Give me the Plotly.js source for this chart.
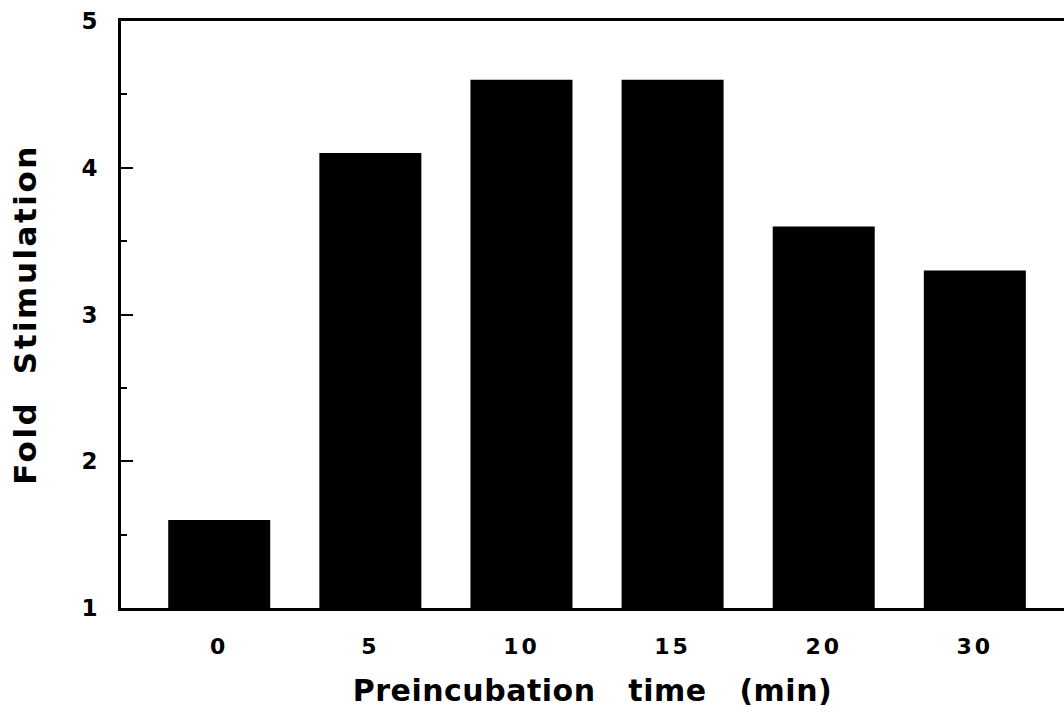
<!DOCTYPE html>
<html>
<head>
<meta charset="utf-8">
<script src="https://cdn.plot.ly/plotly-3.0.1.min.js"></script>
<style>
html,body{margin:0;padding:0;background:#fff;}
#chart{width:1064px;height:714px;}
#chart .xtitle{letter-spacing:0.5px;}
#chart .ytitle{letter-spacing:2.5px;}
#chart .xtick text{letter-spacing:3px;}
</style>
</head>
<body>
<div id="chart"></div>
<script>
const categories = ["0", "5", "10", "15", "20", "30"];
const foldStimulation = [1.6, 4.1, 4.6, 4.6, 3.6, 3.3];
const yTickVals = [1, 2, 3, 4, 5];

const font = "DejaVu Sans, Liberation Sans, Arial, sans-serif";

Plotly.newPlot("chart", [{
  type: "bar",
  x: categories,
  y: foldStimulation,
  marker: {color: "#000", line: {width: 0}},
  hoverinfo: "skip"
}], {
  width: 1064, height: 714,
  margin: {l: 121, r: 0, t: 21, b: 106},
  paper_bgcolor: "#fff", plot_bgcolor: "#fff",
  bargap: 0.325,
  showlegend: false,
  font: {family: font, color: "#000"},
  xaxis: {
    type: "category",
    range: [-0.65, 5.59],
    showline: true, linewidth: 3, linecolor: "#000", mirror: true,
    ticks: "", showgrid: false, zeroline: false,
    tickfont: {family: font, size: 22, weight: "bold"},
    ticklabelstandoff: 17,
    title: {text: "Preincubation\u00a0\u00a0\u00a0time\u00a0\u00a0\u00a0(min)", font: {family: font, size: 30, weight: "bold"}, standoff: 22}
  },
  yaxis: {
    range: [1, 5],
    tickvals: yTickVals,
    showline: true, linewidth: 3, linecolor: "#000",
    ticks: "inside", ticklen: 12, tickwidth: 2, tickcolor: "#000",
    minor: {ticks: "inside", dtick: 0.5, ticklen: 6, tickwidth: 2, tickcolor: "#000"},
    showgrid: false, zeroline: false,
    tickfont: {family: font, size: 23, weight: "bold"},
    ticklabelstandoff: 16,
    title: {text: "Fold\u00a0\u00a0Stimulation", font: {family: font, size: 31, weight: "bold"}, standoff: 36}
  }
}, {staticPlot: true});
</script>
</body>
</html>
